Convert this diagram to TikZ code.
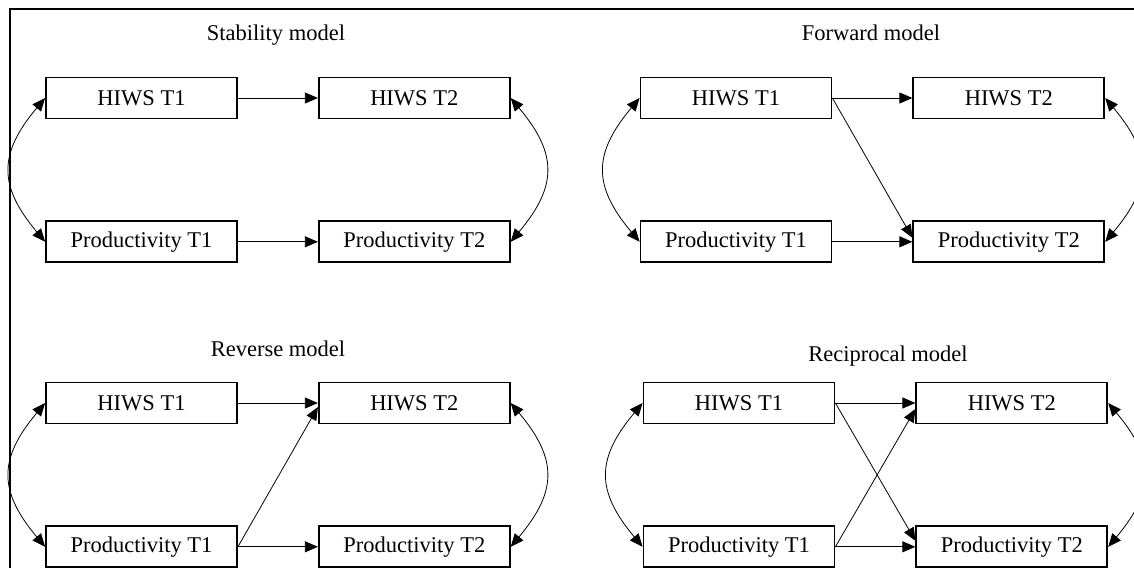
\documentclass[tikz,border=0pt]{standalone}
\usepackage{fontspec}
\setmainfont{Liberation Serif}
\usetikzlibrary{arrows.meta,positioning}

\begin{document}
\begin{tikzpicture}[x=1pt,y=-1pt,->,>={Triangle[length=13pt,width=11pt]},line width=0.8pt,
  node distance=101pt and 80pt,font=\fontsize{22.5}{27}\selectfont,
  main node/.style={rectangle,draw,line width=1.8pt,minimum width=191pt,minimum height=41pt,inner sep=0pt},
  title node/.style={anchor=base}]

  \useasboundingbox (0,0) rectangle (1134,568);
  \clip (0,0) rectangle (1134,568);
  \draw[-,line width=2pt] (10,568) -- (10,9) -- (1134,9);

  % stability model
  \node[title node] (st) at (276,40) {Stability model};
  \node[main node] (sh1) at (141.5,98) {HIWS T1};
  \node[main node] (sh2) [right=of sh1] {HIWS T2};
  \node[main node] (sp1) [below=of sh1] {Productivity T1};
  \node[main node] (sp2) [below=of sh2] {Productivity T2};

  % forward model
  \node[title node] (ft) at (871,40) {Forward model};
  \node[main node] (fh1) at (736,98) {HIWS T1};
  \node[main node] (fh2) [right=of fh1] {HIWS T2};
  \node[main node] (fp1) [below=of fh1] {Productivity T1};
  \node[main node] (fp2) [below=of fh2] {Productivity T2};

  % reverse model
  \node[title node] (rt) at (278,356) {Reverse model};
  \node[main node] (rh1) at (141.5,403) {HIWS T1};
  \node[main node] (rh2) [right=of rh1] {HIWS T2};
  \node[main node] (rp1) [below=of rh1] {Productivity T1};
  \node[main node] (rp2) [below=of rh2] {Productivity T2};

  % reciprocal model
  \node[title node] (ct) at (888,361) {Reciprocal model};
  \node[main node] (ch1) at (739,403) {HIWS T1};
  \node[main node] (ch2) [right=of ch1] {HIWS T2};
  \node[main node] (cp1) [below=of ch1] {Productivity T1};
  \node[main node] (cp2) [below=of ch2] {Productivity T2};

  \path[every edge/.append style={line width=0.8pt}]

    (sh1) edge (sh2)
    (sp1) edge (sp2)
    (sh1.west) edge [<->,bend right=40,looseness=1.3] (sp1.west)
    (sh2.east) edge [<->,bend left=40,looseness=1.3] (sp2.east)

    (fh1) edge (fh2)
    (fp1) edge (fp2)
    (fh1.east) edge ([yshift=4pt]fp2.west)
    (fh1.west) edge [<->,bend right=40,looseness=1.3] (fp1.west)
    (fh2.east) edge [<->,bend left=40,looseness=1.3] (fp2.east)

    (rh1) edge (rh2)
    (rp1) edge (rp2)
    (rp1.east) edge ([yshift=-4pt]rh2.west)
    (rh1.west) edge [<->,bend right=40,looseness=1.3] (rp1.west)
    (rh2.east) edge [<->,bend left=40,looseness=1.3] (rp2.east)

    (ch1) edge (ch2)
    (cp1) edge (cp2)
    (ch1.east) edge ([yshift=6pt]cp2.west)
    (cp1.east) edge ([yshift=-6pt]ch2.west)
    (ch1.west) edge [<->,bend right=40,looseness=1.3] (cp1.west)
    (ch2.east) edge [<->,bend left=40,looseness=1.3] (cp2.east);

\end{tikzpicture}
\end{document}
